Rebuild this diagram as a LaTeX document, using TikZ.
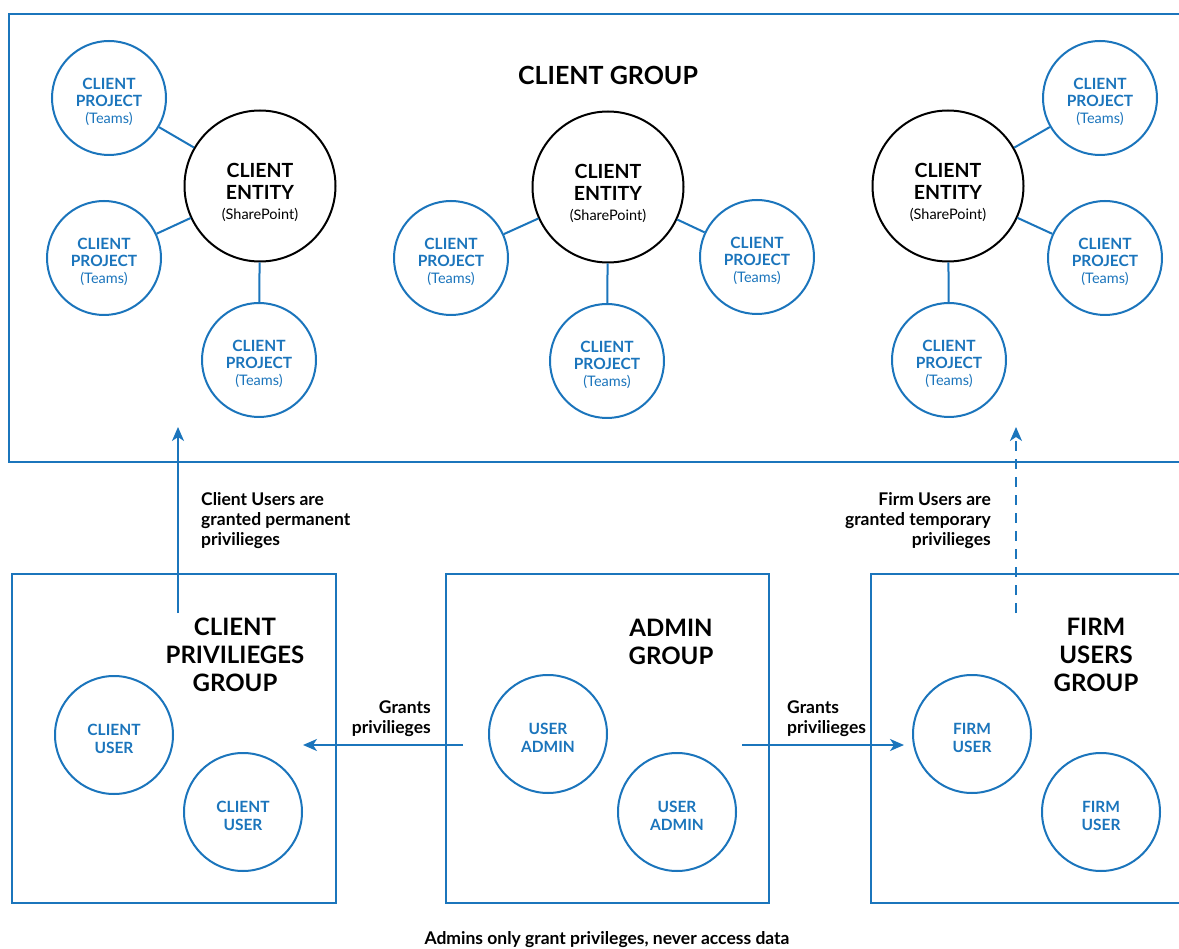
\documentclass[tikz,border=0pt]{standalone}
\usepackage{fontspec}
\setmainfont{Lato}
\usetikzlibrary{arrows.meta}
\definecolor{cblue}{HTML}{1B75BC}
\begin{document}
\begin{tikzpicture}[x=1pt,y=-1pt,
  proj/.style={circle, draw=cblue, line width=2pt, minimum size=114pt, inner sep=0pt, align=center, text=cblue, font=\bfseries\fontsize{15.5}{17}\selectfont},
  ent/.style={circle, draw=black, line width=2pt, minimum size=151pt, inner sep=0pt, align=center, font=\bfseries\fontsize{19.5}{22}\selectfont},
  usr/.style={circle, draw=cblue, line width=2pt, minimum size=118pt, inner sep=0pt, align=center, text=cblue, font=\bfseries\fontsize{15.5}{18}\selectfont},
  grp/.style={draw=cblue, line width=2pt},
  ttl/.style={align=center, font=\bfseries\fontsize{24}{28}\selectfont, inner sep=0pt},
  lbl/.style={font=\bfseries\fontsize{17.5}{20}\selectfont, inner sep=0pt},
  link/.style={draw=cblue, line width=2pt},
  arr/.style={draw=cblue, line width=2pt, -{Stealth[length=14pt,width=12pt,inset=4pt]}},
]
\useasboundingbox (0,0) rectangle (1179,949);
\fill[white] (0,0) rectangle (1179,949);

% group boxes
\draw[grp] (9,14) rectangle (1200,462);
\draw[grp] (12,574) rectangle (336,903);
\draw[grp] (446,574) rectangle (769,903);
\draw[grp] (871,574) rectangle (1200,903);

\newcommand{\tms}{{\mdseries\fontsize{14.5}{17}\selectfont (Teams)}}
\newcommand{\shp}{{\mdseries\fontsize{14.5}{17}\selectfont (SharePoint)}}
\newcommand{\pjt}{\rule{0pt}{20pt}CLIENT\\PROJECT\\\tms}
\newcommand{\ent}{\rule{0pt}{28pt}CLIENT\\ENTITY\\[-2pt]\shp}

\node[ttl, anchor=north, font=\bfseries\fontsize{25}{28}\selectfont] (tcg) at (608,66) {CLIENT GROUP};

% left cluster
\node[ent] (e1) at (260,186) {\ent};
\node[proj] (p11) at (109,98) {\pjt};
\node[proj] (p12) at (104,258) {\pjt};
\node[proj] (p13) at (259,360) {\pjt};
\draw[link] (e1) -- (p11);
\draw[link] (e1) -- (p12);
\draw[link] (e1) -- (p13);

% middle cluster
\node[ent] (e2) at (608,187) {\ent};
\node[proj] (p21) at (451,258) {\pjt};
\node[proj] (p22) at (607,361) {\pjt};
\node[proj] (p23) at (757,257) {\pjt};
\draw[link] (e2) -- (p21);
\draw[link] (e2) -- (p22);
\draw[link] (e2) -- (p23);

% right cluster
\node[ent] (e3) at (948,186) {\ent};
\node[proj] (p31) at (1100,98) {\pjt};
\node[proj] (p32) at (1105,258) {\pjt};
\node[proj] (p33) at (949,360) {\pjt};
\draw[link] (e3) -- (p31);
\draw[link] (e3) -- (p32);
\draw[link] (e3) -- (p33);

% bottom group titles
\node[ttl, anchor=north] (tcp) at (235,618) {CLIENT\\PRIVILIEGES\\GROUP};
\node[ttl, anchor=north] (tag) at (671,619) {ADMIN\\GROUP};
\node[ttl, anchor=north] (tfu) at (1096,618) {FIRM\\USERS\\GROUP};

% users
\node[usr] (cu1) at (114,735) {\rule{0pt}{19pt}CLIENT\\USER};
\node[usr] (cu2) at (243,812) {\rule{0pt}{19pt}CLIENT\\USER};
\node[usr] (ua1) at (548,734) {\rule{0pt}{19pt}USER\\ADMIN};
\node[usr] (ua2) at (677,812) {\rule{0pt}{19pt}USER\\ADMIN};
\node[usr] (fu1) at (972,734) {\rule{0pt}{19pt}FIRM\\USER};
\node[usr] (fu2) at (1101,812) {\rule{0pt}{19pt}FIRM\\USER};

% arrows
\coordinate (upLs) at (178,613);
\coordinate (upLe) at (178,427);
\draw[arr] (upLs) -- (upLe);
\coordinate (upRs) at (1016,613);
\coordinate (upRe) at (1016,427);
\draw[arr, dash pattern=on 10pt off 8pt] (upRs) -- (upRe);
\coordinate (hLs) at (463,745);
\coordinate (hLe) at (303,745);
\draw[arr] (hLs) -- (hLe);
\coordinate (hRs) at (742,745);
\coordinate (hRe) at (904,745);
\draw[arr] (hRs) -- (hRe);

% labels
\node[lbl, anchor=north west, align=left] (lcu) at (201,492) {Client Users are\\granted permanent\\privilieges};
\node[lbl, anchor=north east, align=right] (lfu) at (991,492) {Firm Users are\\granted temporary\\privilieges};
\node[lbl, anchor=north east, align=right] (lgl) at (431,701) {Grants\\privilieges};
\node[lbl, anchor=north west, align=left] (lgr) at (787,701) {Grants\\privilieges};
\node[lbl, anchor=north] (lbot) at (607,931) {Admins only grant privileges, never access data};
\end{tikzpicture}
\end{document}
